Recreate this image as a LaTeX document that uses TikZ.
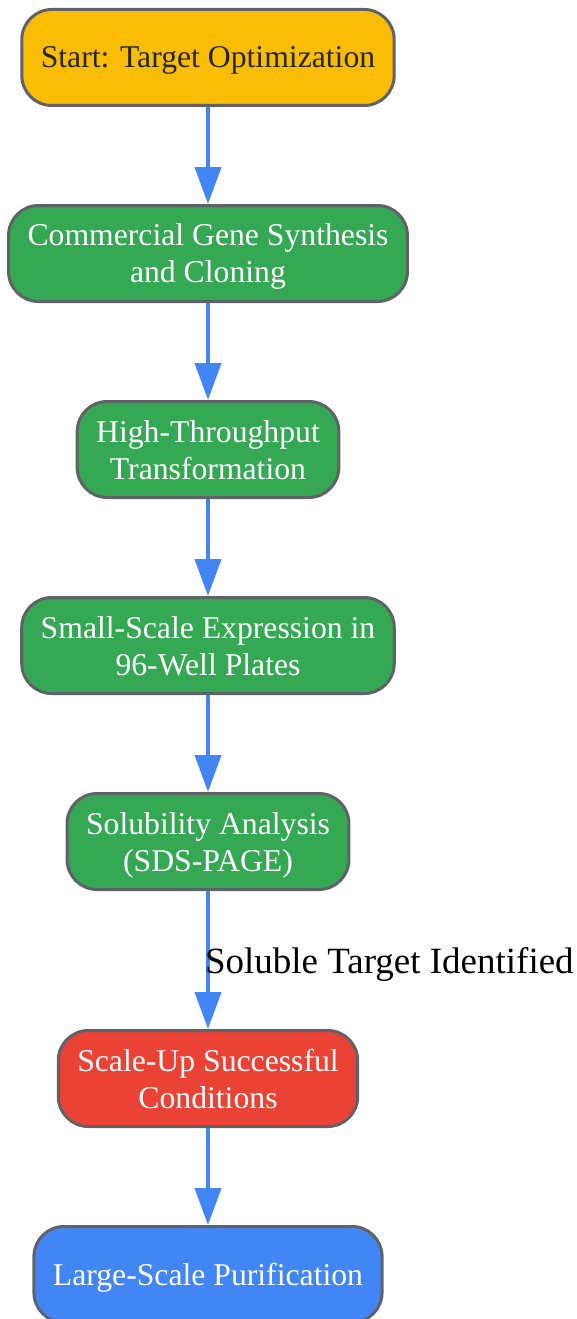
\documentclass[tikz,border=0pt]{standalone}
\usepackage{fontspec}
\setmainfont{Liberation Serif}
\usetikzlibrary{positioning,arrows.meta}
\definecolor{gstart}{HTML}{FBBC04}
\definecolor{gstep}{HTML}{34A853}
\definecolor{gscale}{HTML}{EA4335}
\definecolor{gpurif}{HTML}{4285F4}
\definecolor{gedge}{HTML}{4285F4}
\definecolor{gline}{HTML}{5F6368}
\begin{document}
\begin{tikzpicture}[node distance={196pt},
  box/.style = {draw=gline, line width=3pt, rounded corners=30pt, align=center,
    minimum height=96pt, inner xsep=19pt, text depth=-1pt,
    font=\fontsize{31.7}{37}\selectfont},
  start/.style = {box, fill=gstart, text=black!85},
  stepbox/.style = {box, fill=gstep, text=white},
  scaleup/.style = {box, fill=gscale, text=white},
  purif/.style = {box, fill=gpurif, text=white},
  flow/.style = {draw=gedge, line width=4pt, -{Triangle[width=26pt,length=37pt]}},
  lbl/.style = {font=\fontsize{37}{44}\selectfont, text=black, inner sep=0pt}]
\useasboundingbox (0,0) rectangle (577pt,-1319pt);

\node[start] (start) at (208pt,-57.5pt) {Start: Target Optimization};
\node[stepbox] (gene) [below of=start] {Commercial Gene Synthesis\\and Cloning};
\node[stepbox] (trans) [below of=gene] {High-Throughput\\Transformation};
\node[stepbox] (expr) [below of=trans] {Small-Scale Expression in\\96-Well Plates};
\node[stepbox] (sol) [below of=expr] {Solubility Analysis\\(SDS-PAGE)};
\node[scaleup] (scale) [below of=sol, node distance={237pt}] {Scale-Up Successful\\Conditions};
\node[purif] (purif) [below of=scale] {Large-Scale Purification};

\draw[flow] (start) -- (gene);
\draw[flow] (gene) -- (trans);
\draw[flow] (trans) -- (expr);
\draw[flow] (expr) -- (sol);
\draw[flow] (sol) -- node[lbl, anchor=west, xshift=-5pt, yshift=-4pt] {Soluble Target Identified} (scale);
\draw[flow] (scale) -- (purif);

\end{tikzpicture}
\end{document}
